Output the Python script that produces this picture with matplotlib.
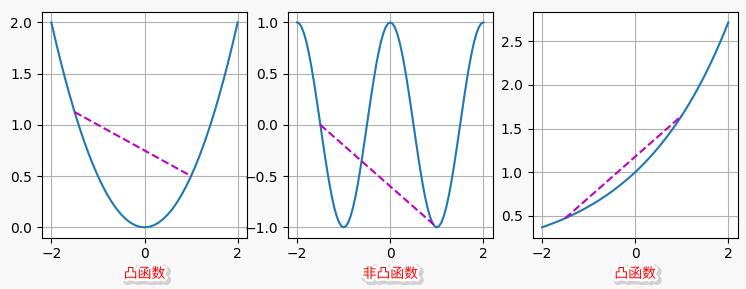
import numpy as np
import matplotlib
matplotlib.use("Agg")
import matplotlib.pyplot as plt
import matplotlib.patheffects as pe

# sample grid (step 0.1) for the two smooth curves
x_smooth = np.linspace(-2, 2, 41)
# convex parabola values read at x_smooth
y_parab = [2.0, 1.805, 1.62, 1.445, 1.28, 1.125, 0.98, 0.845, 0.72, 0.605, 0.5,
           0.405, 0.32, 0.245, 0.18, 0.125, 0.08, 0.045, 0.02, 0.005, 0.0,
           0.005, 0.02, 0.045, 0.08, 0.125, 0.18, 0.245, 0.32, 0.405, 0.5,
           0.605, 0.72, 0.845, 0.98, 1.125, 1.28, 1.445, 1.62, 1.805, 2.0]
# convex exponential values read at x_smooth
y_exp = [0.368, 0.387, 0.407, 0.427, 0.449, 0.472, 0.497, 0.522, 0.549, 0.577, 0.607,
         0.638, 0.670, 0.705, 0.741, 0.779, 0.819, 0.861, 0.905, 0.951, 1.0,
         1.051, 1.105, 1.162, 1.221, 1.284, 1.350, 1.419, 1.492, 1.568, 1.649,
         1.733, 1.822, 1.916, 2.014, 2.117, 2.226, 2.340, 2.460, 2.586, 2.718]
# finer grid (step 0.05) for the oscillating curve
x_fine = np.linspace(-2, 2, 81)
y_wave = [1, .988, .951, .891, .809, .707, .588, .454, .309, .156, 0,
          -.156, -.309, -.454, -.588, -.707, -.809, -.891, -.951, -.988, -1,
          -.988, -.951, -.891, -.809, -.707, -.588, -.454, -.309, -.156, 0,
          .156, .309, .454, .588, .707, .809, .891, .951, .988, 1,
          .988, .951, .891, .809, .707, .588, .454, .309, .156, 0,
          -.156, -.309, -.454, -.588, -.707, -.809, -.891, -.951, -.988, -1,
          -.988, -.951, -.891, -.809, -.707, -.588, -.454, -.309, -.156, 0,
          .156, .309, .454, .588, .707, .809, .891, .951, .988, 1]

# chord endpoints
seg_x = [-1.5, 1.0]
seg_parab = [1.125, 0.5]
seg_wave = [0.0, -1.0]
seg_exp = [0.472, 1.649]

labels = ["凸函数", "非凸函数", "凸函数"]

fig = plt.figure(figsize=(7.46, 2.89), dpi=100, facecolor="#f8f8f8")
lefts = [0.0563, 0.3857, 0.714]
w, b, h = 0.2748, 0.178, 0.780

series = [(x_smooth, y_parab, seg_parab), (x_fine, y_wave, seg_wave), (x_smooth, y_exp, seg_exp)]
for l, (xs, ys, seg), lab in zip(lefts, series, labels):
    ax = fig.add_axes([l, b, w, h])
    ax.plot(xs, ys, color="#1f77b4", lw=1.5)
    ax.plot(seg_x, seg, color="m", ls="--", lw=1.5)
    ax.grid(True, color="#b0b0b0", lw=0.8)
    ax.set_axisbelow(True)
    ax.set_xticks([-2, 0, 2])
    ax.set_xlabel(lab, color="red", fontsize=10,
                  family=["Noto Sans CJK SC", "DejaVu Sans"],
                  path_effects=[pe.Stroke(linewidth=6, foreground="#777777", alpha=0.3, offset=(1.5, -1.5)),
                                pe.Stroke(linewidth=4, foreground="white"),
                                pe.Normal()])

fig.savefig("out.png", dpi=100, facecolor=fig.get_facecolor())
